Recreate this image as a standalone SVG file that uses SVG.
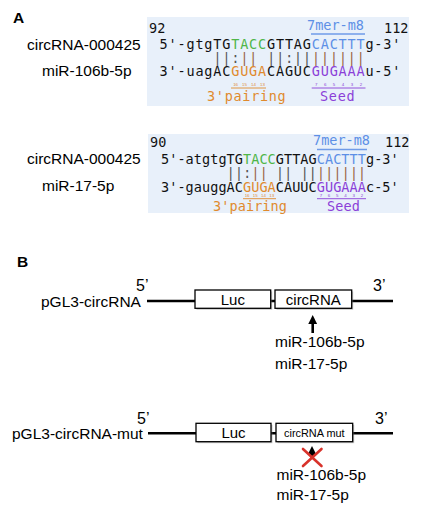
<svg xmlns="http://www.w3.org/2000/svg" width="426" height="507" viewBox="0 0 426 507">
<defs>
<style>
.sans{font-family:"Liberation Sans",Arial,sans-serif;fill:#000}
.lbl{font-size:15.5px}
.panel{font-size:15.5px;font-weight:bold}
.mono{font-family:"DejaVu Sans Mono","Liberation Mono",monospace;font-size:13.5px;fill:#111}
.m1{letter-spacing:0.82px}
.m2{letter-spacing:0.07px}
.bars{font-family:"Liberation Mono","DejaVu Sans Mono",monospace;font-size:14px}
.bg{fill:#e8f0fa}
.g{fill:#4fb648}.b{fill:#5d8fe6}.o{fill:#e08a2e}.p{fill:#8b3fd8}.br{fill:#9a6546}.gr{fill:#555}
.tiny{font-family:"Liberation Sans",Arial,sans-serif;font-size:4.4px;text-anchor:middle}
.box{fill:#fff;stroke:#000;stroke-width:1.3}
.shadow{fill:#888;opacity:.45}
.bb{stroke:#000;stroke-width:2.6}
.arr{stroke:#000;stroke-width:2.6;fill:none}
</style>
<marker id="ah" viewBox="0 0 10 10" refX="5" refY="5" markerWidth="3.4" markerHeight="3.4" orient="auto">
<path d="M0,0 L10,5 L0,10 z" fill="#000"/>
</marker>
</defs>
<rect width="426" height="507" fill="#fff"/>

<g id="panelA">
<text class="sans panel" x="13" y="23">A</text>

<g id="pair1">
<rect class="bg" x="147" y="17" width="262" height="89"/>
<text class="mono" x="149" y="33">92</text>
<text class="mono" x="384" y="33">112</text>
<text class="mono b" x="307" y="29.5">7mer-m8</text>
<line x1="311" y1="34" x2="365" y2="34" stroke="#6f9be8" stroke-width="1.3"/>
<text class="sans lbl" x="27" y="50">circRNA-000425</text>
<text class="sans lbl" x="42" y="76">miR-106b-5p</text>
<text class="mono m1" x="159.6" y="48.5">5'-gtgTG<tspan class="g">TACC</tspan>GTTAG<tspan class="b">CACTTT</tspan>g-3'</text>
<text class="bars" x="213.3" y="63" style="letter-spacing:0.55px"><tspan class="gr">||:</tspan><tspan class="br">||</tspan> <tspan class="gr">||:||</tspan><tspan class="br">||||||</tspan></text>
<text class="mono m1" x="159.6" y="76">3'-uagAC<tspan class="o">GUGA</tspan>CAGUC<tspan class="p">GUGAAA</tspan>u-5'</text>
<g class="tiny o">
<text x="235.6" y="86.3">16</text><text x="244.5" y="86.3">15</text><text x="253.5" y="86.3">14</text><text x="262.5" y="86.3">13</text>
</g>
<line x1="231" y1="88" x2="266" y2="88" stroke="#e08a2e" stroke-width="0.9"/>
<g class="tiny p">
<text x="316.2" y="86.3">7</text><text x="325.2" y="86.3">6</text><text x="334.1" y="86.3">5</text><text x="343.1" y="86.3">4</text><text x="352" y="86.3">3</text><text x="361" y="86.3">2</text>
</g>
<line x1="311.7" y1="88" x2="365.5" y2="88" stroke="#8b3fd8" stroke-width="0.9"/>
<text class="mono o" x="207" y="100.5" style="letter-spacing:0.7px">3'pairing</text>
<text class="mono p" x="320" y="100.5" style="letter-spacing:0.7px">Seed</text>
</g>

<g id="pair2">
<rect class="bg" x="148" y="134" width="261" height="79"/>
<text class="mono" x="150" y="147">90</text>
<text class="mono" x="385" y="147">112</text>
<text class="mono b" x="313" y="145">7mer-m8</text>
<line x1="317" y1="149.5" x2="367" y2="149.5" stroke="#6f9be8" stroke-width="1.3"/>
<text class="sans lbl" x="27" y="164">circRNA-000425</text>
<text class="sans lbl" x="42" y="191">miR-17-5p</text>
<text class="mono m2" x="161" y="163.5">5'-atgtgTG<tspan class="g">TACC</tspan>GTTAG<tspan class="b">CACTTT</tspan>g-3'</text>
<text class="bars" x="226.6" y="178.3" style="letter-spacing:-0.2px"><tspan class="gr">||:</tspan><tspan class="br">||</tspan> <tspan class="gr">|| ||</tspan><tspan class="br">||||||</tspan></text>
<text class="mono m2" x="161" y="191.5">3'-gauggAC<tspan class="o">GUGA</tspan>CAUUC<tspan class="p">GUGAAA</tspan>c-5'</text>
<g class="tiny o">
<text x="247.1" y="197">16</text><text x="255.3" y="197">15</text><text x="263.5" y="197">14</text><text x="271.7" y="197">13</text>
</g>
<line x1="243" y1="198.7" x2="276" y2="198.7" stroke="#e08a2e" stroke-width="0.9"/>
<g class="tiny p">
<text x="320.9" y="197">7</text><text x="329.1" y="197">6</text><text x="337.3" y="197">5</text><text x="345.5" y="197">4</text><text x="353.7" y="197">3</text><text x="361.9" y="197">2</text>
</g>
<line x1="317" y1="198.7" x2="366" y2="198.7" stroke="#8b3fd8" stroke-width="0.9"/>
<text class="mono o" x="213" y="210.5" style="letter-spacing:0.1px">3'pairing</text>
<text class="mono p" x="327" y="210.5" style="letter-spacing:0.1px">Seed</text>
</g>
</g>

<g id="panelB">
<text class="sans panel" x="17" y="267">B</text>

<g id="construct1">
<text class="sans lbl" x="41" y="307">pGL3-circRNA</text>
<text class="sans" x="136" y="291" style="font-size:16px">5’</text>
<text class="sans" x="373" y="291" style="font-size:16px">3’</text>
<line class="bb" x1="147" y1="301" x2="393" y2="301"/>
<rect class="shadow" x="196.5" y="291.5" width="75.7" height="18.3"/>
<rect class="box" x="195" y="290" width="75.7" height="18.3"/>
<text class="sans" x="232.8" y="305" text-anchor="middle" style="font-size:15px">Luc</text>
<rect class="shadow" x="276.5" y="291.5" width="76.7" height="18.3"/>
<rect class="box" x="275" y="290" width="76.7" height="18.3"/>
<text class="sans" x="313.3" y="305" text-anchor="middle" style="font-size:15px">circRNA</text>
</g>

<g id="mirs1">
<text class="sans lbl" x="275" y="347">miR-106b-5p</text>
<text class="sans lbl" x="275" y="368.5">miR-17-5p</text>
</g>

<g id="construct2">
<text class="sans lbl" x="12" y="438.5">pGL3-circRNA-mut</text>
<text class="sans" x="137" y="424" style="font-size:16px">5’</text>
<text class="sans" x="375" y="424" style="font-size:16px">3’</text>
<line class="bb" x1="148" y1="433.3" x2="393" y2="433.3"/>
<rect class="shadow" x="197.5" y="424.8" width="75" height="18.4"/>
<rect class="box" x="196" y="423.3" width="75" height="18.4"/>
<text class="sans" x="233.5" y="437.5" text-anchor="middle" style="font-size:15px">Luc</text>
<rect class="shadow" x="277.5" y="424.8" width="76.7" height="18.4"/>
<rect class="box" x="276" y="423.3" width="76.7" height="18.4"/>
<text class="sans" x="314.3" y="436.5" text-anchor="middle" style="font-size:10.9px">circRNA mut</text>
</g>

<g id="mirs2">
<text class="sans lbl" x="276.5" y="479.5">miR-106b-5p</text>
<text class="sans lbl" x="276.5" y="500">miR-17-5p</text>
</g>
</g>

<g id="connectors">
<line class="arr" x1="312.7" y1="333" x2="312.7" y2="319.5" marker-end="url(#ah)"/>
<line class="arr" x1="312" y1="459" x2="312" y2="450.5" marker-end="url(#ah)"/>
<g stroke="#d8322a" stroke-width="2.6" stroke-linecap="round">
<line x1="303" y1="449" x2="321.5" y2="466"/>
<line x1="321.5" y1="449" x2="303" y2="466"/>
</g>
</g>
</svg>
